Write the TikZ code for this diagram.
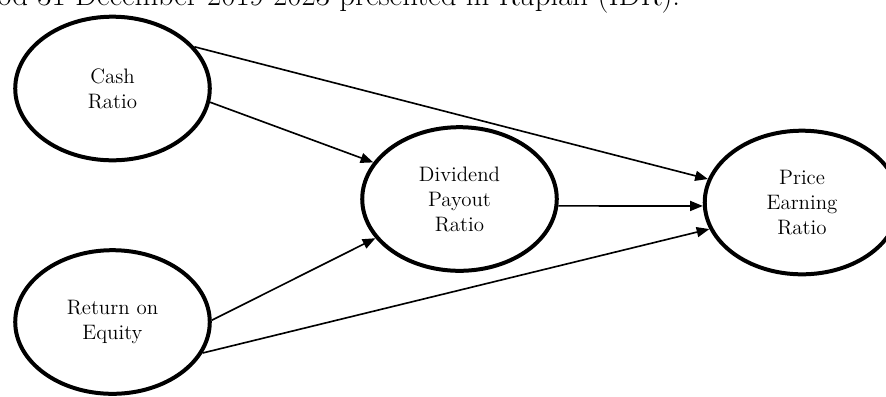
\documentclass[tikz,border=0pt]{standalone}
\usetikzlibrary{shapes.geometric,arrows.meta}

\tikzset{
  var/.style={draw, ellipse, line width=2.2pt, minimum width=107pt, minimum height=79pt,
    inner sep=0pt, align=center, font=\fontsize{11.5}{13.75}\selectfont},
  link/.style={-{Triangle[length=7pt,width=5.5pt]}, line width=0.9pt}
}

\begin{document}
\begin{tikzpicture}[x=0.55pt,y=-0.55pt]
  \useasboundingbox (0,0) rectangle (886,396);
  \clip (0,0) rectangle (886,396);
  % Caption line, cut off at the top:
  \node[anchor=base west, inner sep=0pt, font=\fontsize{17}{20}\selectfont] (cap) at (-3,5)
    {od 31 December 2019-2023 presented in Rupiah (IDR).};
  % Specify the positions of the variables:
  \node[var] (CR) at (112.5,88.5) {Cash\\Ratio};
  \node[var] (ROE) at (112.5,322) {Return on\\Equity};
  \node[var] (DPR) at (459.5,199) {Dividend\\Payout\\Ratio};
  \node[var] (PER) at (802,202.5) {Price\\Earning\\Ratio};
  % Draw arrows:
  \draw[link] (CR.27) -- (PER.166);
  \draw[link] (CR.-8) -- (DPR.157);
  \draw[link] (ROE.1) -- (DPR.205);
  \draw[link] (ROE.-19) -- (PER.196);
  \draw[link] (DPR.-4) -- (PER.182);
\end{tikzpicture}
\end{document}
